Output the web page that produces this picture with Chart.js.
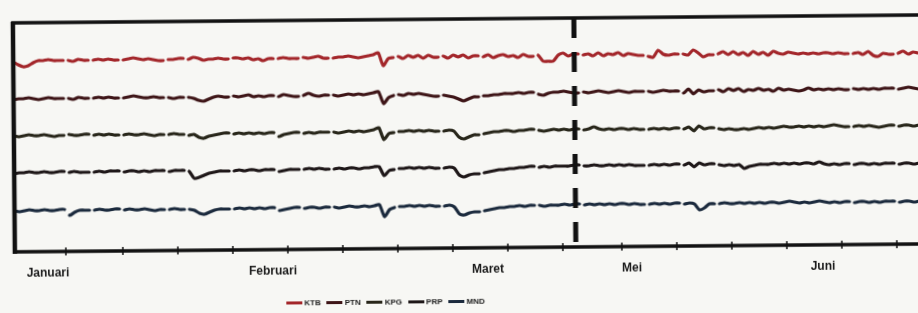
<!DOCTYPE html>
<html>
<head>
<meta charset="utf-8">
<script src="https://cdn.jsdelivr.net/npm/chart.js@4"></script>
<style>
  html, body { margin: 0; padding: 0; background: #f7f7f4; overflow: hidden; }
  #wrap { position: relative; width: 918px; height: 313px; overflow: hidden; }
  #inner { position: absolute; left: 0; top: 0; width: 940px; height: 313px; transform: rotate(-0.5deg); transform-origin: 459px 150px; }
  #legend { position: absolute; top: 297px; left: 285px; display: flex; gap: 6px;
            font: bold 8px "Liberation Sans Narrow", "Liberation Sans", sans-serif; color: #222; }
  #legend span.item { display: flex; align-items: center; }
  #legend span.sw { display: inline-block; width: 16px; height: 3px; margin-right: 2px; }
</style>
</head>
<body>
<div id="wrap">
  <div id="inner">
    <canvas id="chart" width="940" height="313"></canvas>
    <div id="legend"></div>
  </div>
</div>
<script>
// Indeks hari (sumbu x), satu titik tiap indeks
const days = Array.from({ length: 183 }, (_, i) => i);

// Label bulan dan posisinya pada sumbu x
const monthLabels = ['Januari', 'Februari', 'Maret', 'Mei', 'Juni'];
const monthDays = [6.6, 51.6, 94.6, 123.4, 161.6];
// Tanda tick kecil pada sumbu bawah
const tickDays = [10.2, 21.6, 32.6, 43.6, 54.6, 65.6, 76.6, 87.6, 98.6, 109.6, 121.4, 132.4, 143.4, 154.4, 165.4, 176.4];
// Garis putus-putus pemisah
const dividerDay = 112.2;
// Putus kecil pada garis (data kosong setelah indeks ini)
const gapAfter = [10, 15, 21, 30, 34, 43, 52, 57, 63, 76, 85, 93, 104, 113, 126, 133, 140, 167, 176];

const seriesNames = ['KTB', 'PTN', 'KPG', 'PRP', 'MND'];
const seriesColors = ['#a3262a', '#3e1517', '#28261a', '#1e1718', '#1b2a3d'];

const ktb = [
  190,187,185,186,189,191,191,192,191,191,
  191,191,190,192,191,191,191,192,191,192,
  191,191,191,192,193,192,191,192,191,190,
  190,191,191,192,192,191,193,192,190,191,
  191,192,191,191,192,192,191,192,190,191,
  189,191,191,191,192,191,191,191,192,191,
  192,193,191,191,191,192,192,193,192,191,
  192,193,194,196,183,190,191,192,190,193,
  191,193,190,193,191,191,192,190,193,191,
  193,190,192,192,191,193,190,192,193,191,
  192,190,193,191,191,192,186,186,186,192,
  194,191,193,193,192,193,191,194,191,193,
  192,194,191,193,192,191,191,190,189,196,
  192,191,192,192,192,191,196,193,189,191,
  191,192,194,191,194,191,193,190,194,191,
  193,190,194,192,191,193,192,191,192,191,
  192,191,192,192,191,192,191,191,191,192,
  190,193,189,188,191,190,190,191,193,190,
  192,191,192
];
const ptn = [
  152,153,153,154,153,152,153,154,153,153,
  153,153,152,154,153,153,153,154,153,154,
  153,153,153,154,155,154,153,153,154,153,
  153,153,152,153,153,153,152,150,149,151,
  153,154,153,153,154,153,154,155,153,154,
  153,154,154,153,155,154,153,153,154,156,
  154,153,154,154,154,153,154,155,154,155,
  154,155,156,157,145,151,153,154,153,155,
  154,155,154,153,152,152,153,152,151,149,
  147,149,151,151,152,152,153,153,154,154,
  154,155,154,155,155,153,152,154,155,155,
  156,155,154,154,155,154,155,156,155,154,
  155,156,155,154,155,155,155,155,154,155,
  156,155,155,155,153,157,152,156,154,155,
  155,156,154,157,155,157,154,156,155,157,
  155,156,154,157,155,156,155,154,155,157,
  155,156,155,156,155,156,155,155,156,155,
  156,155,156,155,156,156,156,155,156,157,
  156,155,156
];
const kpg = [
  116,115,116,117,116,116,117,116,115,116,
  116,117,116,116,117,117,116,117,116,117,
  116,116,116,117,116,116,117,116,115,116,
  116,116,117,116,116,115,116,113,112,114,
  115,116,117,117,116,117,116,117,116,117,
  116,117,117,113,115,116,117,117,116,117,
  116,117,117,117,117,116,117,118,117,118,
  117,118,119,121,109,115,116,117,117,118,
  117,118,117,118,117,117,117,118,117,111,
  109,111,113,113,114,115,116,116,117,117,
  116,117,117,118,118,117,116,117,118,117,
  118,117,118,118,117,118,120,118,117,118,
  117,118,118,117,118,117,117,117,118,117,
  118,117,118,118,117,119,115,120,117,118,
  118,117,116,117,116,116,117,116,117,118,
  117,118,117,118,119,118,118,119,118,119,
  118,119,118,119,120,119,118,118,118,119,
  118,119,118,117,118,119,119,118,119,119,
  118,119,119
];
const prp = [
  78,79,79,80,79,79,80,79,79,80,
  80,79,80,79,79,79,79,80,79,80,
  80,80,79,80,80,79,80,79,80,80,
  80,79,80,80,80,79,72,73,75,77,
  78,79,79,79,79,80,79,80,80,79,
  80,80,80,78,79,80,80,80,80,81,
  80,81,80,80,80,81,80,81,81,80,
  81,81,82,82,73,78,79,80,80,81,
  80,81,80,81,80,80,80,81,80,73,
  71,73,74,74,75,76,77,78,78,79,
  79,80,80,81,81,80,81,80,81,81,
  81,81,82,82,81,81,82,81,81,82,
  81,82,81,82,81,81,81,81,82,81,
  82,81,82,82,81,83,79,83,81,82,
  82,81,80,81,80,81,77,79,80,81,
  81,81,82,81,82,81,82,81,82,82,
  81,83,81,80,81,80,81,81,80,81,
  81,80,81,80,81,81,81,80,81,81,
  80,81,81
];
const mnd = [
  41,40,41,42,41,41,42,41,41,42,
  42,36,39,41,41,41,41,42,41,41,
  42,42,41,42,41,41,42,41,40,41,
  41,41,42,41,41,41,40,37,36,38,
  40,41,41,41,41,42,41,42,41,42,
  41,42,42,39,40,41,42,42,41,42,
  42,41,42,42,42,41,42,43,42,42,
  43,42,43,44,32,39,41,42,42,43,
  42,43,42,43,42,42,42,43,41,34,
  33,35,36,36,37,38,39,40,40,41,
  41,42,41,42,42,42,41,42,42,42,
  43,42,43,43,42,43,42,43,42,43,
  42,43,43,42,43,42,42,42,43,42,
  43,42,43,43,42,43,42,36,38,42,
  42,42,43,42,42,43,42,43,42,43,
  42,43,43,42,43,44,43,42,43,42,
  43,44,43,42,43,42,43,43,42,43,
  43,42,43,42,43,43,43,42,43,43,
  42,43,43
];
const seriesValues = [ktb, ptn, kpg, prp, mnd];

// Plugin: bingkai tebal, tick kecil dan garis pemisah putus-putus
const framePlugin = {
  id: 'frame',
  afterDatasetsDraw(chart) {
    const { ctx, chartArea: a, scales: { x } } = chart;
    ctx.save();
    ctx.strokeStyle = '#111';
    ctx.lineWidth = 3.5;
    ctx.strokeRect(a.left, a.top, a.right - a.left, a.bottom - a.top);
    ctx.lineWidth = 4.5;
    ctx.beginPath();
    ctx.moveTo(a.left, a.top - 1);
    ctx.lineTo(a.left, a.bottom + 2);
    ctx.stroke();
    // tick
    ctx.lineWidth = 1.5;
    tickDays.forEach(d => {
      const px = x.getPixelForValue(d);
      ctx.beginPath();
      ctx.moveTo(px, a.bottom - 4);
      ctx.lineTo(px, a.bottom + 4);
      ctx.stroke();
    });
    // garis pemisah
    const dx = x.getPixelForValue(dividerDay);
    ctx.lineWidth = 5;
    ctx.setLineDash([20, 14]);
    ctx.beginPath();
    ctx.moveTo(dx, a.top);
    ctx.lineTo(dx, a.bottom);
    ctx.stroke();
    ctx.restore();
  }
};

const datasets = seriesNames.map((name, k) => ({
  label: name,
  data: seriesValues[k],
  borderColor: seriesColors[k],
  backgroundColor: seriesColors[k],
  borderWidth: 3.2,
  borderCapStyle: 'round',
  borderJoinStyle: 'round',
  pointRadius: 0,
  tension: 0.2,
  segment: {
    borderColor: c => gapAfter.includes(c.p0DataIndex) ? 'rgba(0,0,0,0)' : undefined
  }
}));

const chart = new Chart(document.getElementById('chart').getContext('2d'), {
  type: 'line',
  data: { labels: days, datasets: datasets },
  options: {
    responsive: false,
    animation: false,
    layout: { padding: { left: 14, right: 14, top: 19, bottom: 0 } },
    plugins: { legend: { display: false }, tooltip: { enabled: false } },
    scales: {
      x: {
        type: 'linear',
        min: 0,
        max: 182.4,
        grid: { display: false },
        border: { display: false },
        afterBuildTicks: s => { s.ticks = monthDays.map(v => ({ value: v })); },
        afterFit: s => { s.height = 65; },
        ticks: {
          autoSkip: false,
          maxRotation: 0,
          padding: 6,
          color: '#1a1a1a',
          font: { family: '"Liberation Sans Narrow", "Liberation Sans", sans-serif', size: 12, weight: 'bold' },
          callback: v => monthLabels[monthDays.indexOf(v)] || ''
        }
      },
      y: {
        display: false,
        min: 0,
        max: 229
      }
    }
  },
  plugins: [framePlugin]
});

// Legenda HTML dari dataset
const legend = document.getElementById('legend');
chart.data.datasets.forEach(ds => {
  const item = document.createElement('span');
  item.className = 'item';
  const sw = document.createElement('span');
  sw.className = 'sw';
  sw.style.background = ds.borderColor;
  item.appendChild(sw);
  item.appendChild(document.createTextNode(ds.label));
  legend.appendChild(item);
});
</script>
</body>
</html>
